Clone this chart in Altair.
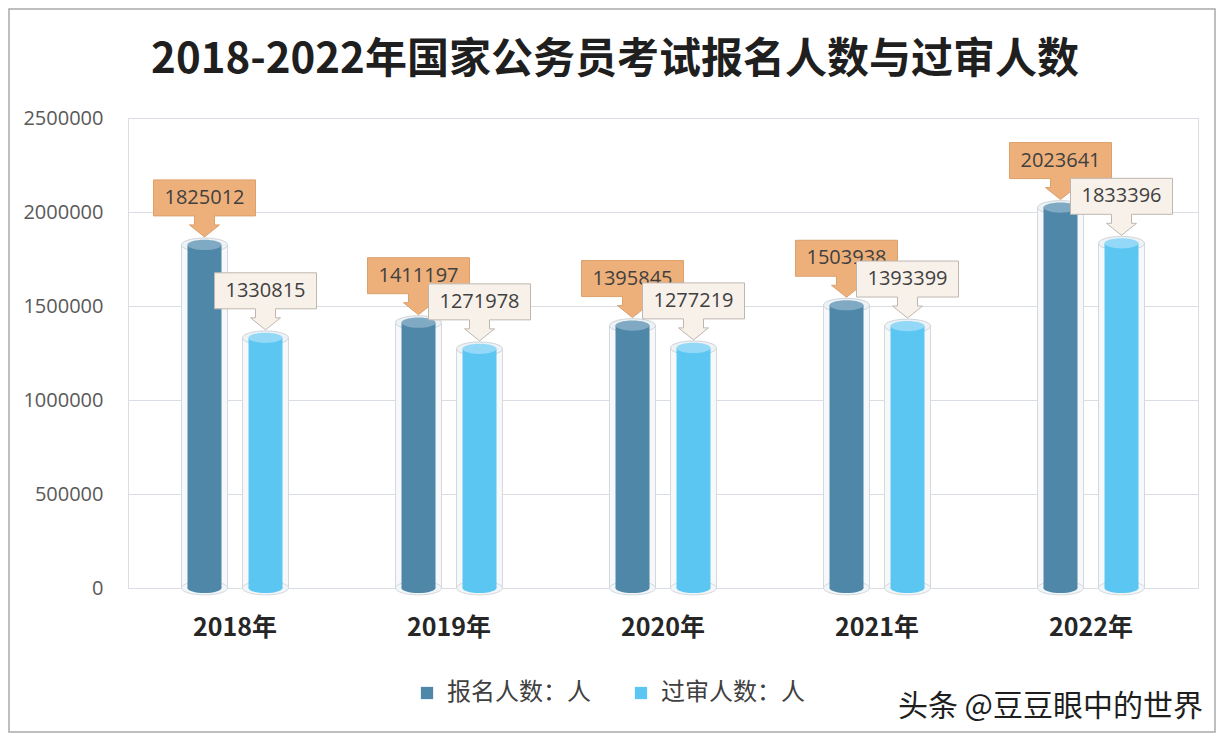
import altair as alt
import pandas as pd

years = ["2018年", "2019年", "2020年", "2021年", "2022年"]
series_names = ["报名人数：人", "过审人数：人"]
applicants = [1825012, 1411197, 1395845, 1503938, 2023641]
approved = [1330815, 1271978, 1277219, 1393399, 1833396]
y_ticks = [0, 500000, 1000000, 1500000, 2000000, 2500000]
title_text = "2018-2022年国家公务员考试报名人数与过审人数"
watermark_text = "头条 @豆豆眼中的世界"

rows = []
for i, yr in enumerate(years):
    rows.append({"year": yr, "series": series_names[0], "value": applicants[i]})
    rows.append({"year": yr, "series": series_names[1], "value": approved[i]})
df = pd.DataFrame(rows)

DARK = "#4f87a9"
LIGHT = "#5cc6f3"
DARK_TOP = "#80aac4"
LIGHT_TOP = "#93d9f7"

ELLIPSE = "M -1 0 A 1 0.3 0 1 0 1 0 A 1 0.3 0 1 0 -1 0 Z"
CALLOUT = ("M 0 -0.16 L 0.3 -0.4 L 0.2 -0.4 L 0.2 -0.58 L 1.02 -0.58 L 1.02 -1.3 "
           "L -1.02 -1.3 L -1.02 -0.58 L -0.2 -0.58 L -0.2 -0.4 L -0.3 -0.4 Z")

x_enc = alt.X("year:N", sort=years,
              scale=alt.Scale(paddingInner=0, paddingOuter=0),
              axis=alt.Axis(title=None, domain=False, ticks=False, labelAngle=0,
                            labelFont="Noto Sans CJK SC", labelFontWeight="bold",
                            labelFontSize=25, labelColor="#262626", labelPadding=27))
xo_enc = alt.XOffset("series:N", sort=series_names,
                     scale=alt.Scale(domain=series_names, paddingInner=0, paddingOuter=0.754))
y_enc = alt.Y("value:Q", scale=alt.Scale(domain=[0, 2500000], nice=False),
              axis=alt.Axis(values=y_ticks, format="d", title=None, domain=False, ticks=False,
                            grid=True, gridColor="#d8dee4", gridWidth=1,
                            labelPadding=25, labelFont="Open Sans", labelFontSize=20,
                            labelColor="#595959"))
y0 = alt.datum(0)

base = alt.Chart(df).encode(x=x_enc, xOffset=xo_enc)
dark_only = base.transform_filter(alt.datum.series == series_names[0])
light_only = base.transform_filter(alt.datum.series == series_names[1])

glass = base.mark_bar(width=46, fill="#f6f8fa", stroke="#d3d9df", strokeWidth=1).encode(y=y_enc)
glass_bottom = base.mark_point(shape=ELLIPSE, size=2116, filled=True, fill="#f3f6f8",
                               stroke="#d3d9df", strokeWidth=1, opacity=1).encode(y=y0)
glass_top = base.mark_point(shape=ELLIPSE, size=2116, filled=True, fill="#eef2f5",
                            stroke="#cdd4db", strokeWidth=1, opacity=1).encode(y=y_enc)

color_enc = alt.Color("series:N", sort=series_names,
                      scale=alt.Scale(domain=series_names, range=[DARK, LIGHT]),
                      legend=alt.Legend(title=None, orient="none", direction="horizontal",
                                        legendX=287, legendY=563, symbolType="square",
                                        symbolSize=150, symbolStrokeWidth=0,
                                        labelFont="Noto Sans CJK SC", labelFontSize=24,
                                        labelColor="#404040", labelOffset=8,
                                        columnPadding=38))

bottom_dark = dark_only.mark_point(shape=ELLIPSE, size=1156, filled=True, fill=DARK,
                                   opacity=1).encode(y=y0)
bottom_light = light_only.mark_point(shape=ELLIPSE, size=1156, filled=True, fill=LIGHT,
                                     opacity=1).encode(y=y0)
bars = base.mark_bar(width=34).encode(y=y_enc, color=color_enc)

top_dark = dark_only.mark_point(shape=ELLIPSE, size=1156, filled=True, fill=DARK_TOP,
                                opacity=1).encode(y=y_enc)
top_light = light_only.mark_point(shape=ELLIPSE, size=1156, filled=True, fill=LIGHT_TOP,
                                  opacity=1).encode(y=y_enc)

call_dark = dark_only.mark_point(
    shape=CALLOUT, size=10000, filled=True, fill="#eeb07b", stroke="#dba06c",
    strokeWidth=1, opacity=1).encode(y=y_enc)
text_dark = dark_only.mark_text(
    dy=-47, font="Open Sans", fontSize=20, color="#404040").encode(
    y=y_enc, text=alt.Text("value:Q", format="d"))
call_light = light_only.mark_point(
    shape=CALLOUT, size=10000, filled=True, fill="#f8f1ea", stroke="#bfb7af",
    strokeWidth=1, opacity=1).encode(y=y_enc)
text_light = light_only.mark_text(
    dy=-47, font="Open Sans", fontSize=20, color="#404040").encode(
    y=y_enc, text=alt.Text("value:Q", format="d"))

title = alt.Chart(pd.DataFrame({"t": [title_text]})).mark_text(
    font="Noto Sans CJK SC", fontWeight="bold", fontSize=42, color="#1f1f1f",
    align="center", baseline="middle").encode(
    text="t:N", x=alt.value(487), y=alt.value(-58))

watermark = alt.Chart(pd.DataFrame({"t": [watermark_text]})).mark_text(
    font="Noto Sans CJK SC", fontSize=30, color="#1e1e1e",
    align="right", baseline="middle").encode(
    text="t:N", x=alt.value(1075), y=alt.value(589))

border = alt.Chart(pd.DataFrame({"a": [0]})).mark_rect(
    fillOpacity=0, stroke="#a9a9a9", strokeWidth=1.5).encode(
    x=alt.value(-119), x2=alt.value(1087), y=alt.value(-109), y2=alt.value(614))

chart = alt.layer(
    border, glass, glass_bottom, glass_top, bottom_dark, bottom_light, bars, top_dark, top_light,
    call_dark, text_dark, call_light, text_light, title, watermark
).properties(
    width=1070, height=470,
    autosize=alt.AutoSizeParams(type="none"),
    padding={"left": 120, "top": 110, "right": 19, "bottom": 146},
).configure_view(stroke=None).configure(background="white")

chart.save("out.html", embed_options={"renderer": "svg", "actions": False})
